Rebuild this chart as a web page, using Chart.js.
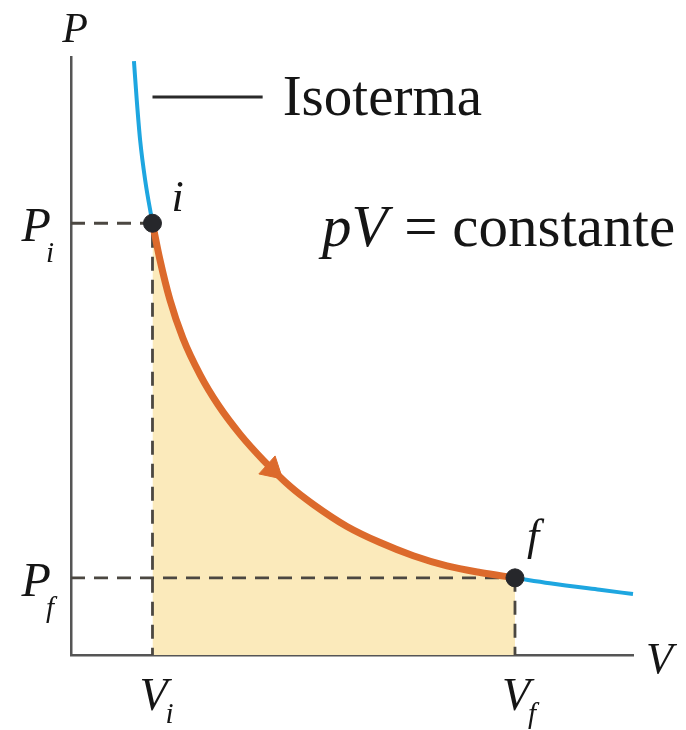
<!DOCTYPE html>
<html>
<head>
<meta charset="utf-8">
<script src="https://cdn.jsdelivr.net/npm/chart.js@4"></script>
<style>
  html, body { margin: 0; padding: 0; background: #fff; }
  #wrap { width: 686px; height: 730px; position: relative; }
</style>
</head>
<body>
<div id="wrap"><canvas id="pvChart"></canvas></div>
<script>
// isotherm above the initial state
const volumeIsoUpper = [1.12, 1.17, 1.23, 1.32, 1.45];
const pressureIsoUpper = [9.93, 9.28, 8.61, 7.94, 7.22];

// the expansion i -> f along the isotherm
const volumeProcess = [1.45, 1.58, 1.76, 1.99, 2.30, 2.62, 3.01, 3.42, 3.90, 4.31, 4.91, 5.50, 6.09, 6.69, 7.28, 7.90];
const pressureProcess = [7.22, 6.62, 5.94, 5.30, 4.68, 4.18, 3.69, 3.26, 2.82, 2.52, 2.15, 1.88, 1.66, 1.49, 1.38, 1.29];

// isotherm beyond the final state
const volumeIsoLower = [7.90, 8.52, 9.41, 10.0];
const pressureIsoLower = [1.29, 1.20, 1.09, 1.02];

// states
const stateNames = ['i', 'f'];
const stateVolume = [1.45, 7.90];
const statePressure = [7.22, 1.29];

// direction arrow on the process curve
const arrowVolume = [3.58];
const arrowPressure = [3.10];

// leader line to the "Isoterma" label
const leaderVolume = [1.45, 3.41];
const leaderPressure = [9.33, 9.33];

// tick labels [main, subscript]
const yTickLabels = [['P', 'i'], ['P', 'f']];
const xTickLabels = [['V', 'i'], ['V', 'f']];
const axisNames = ['V', 'P'];
const curveLabel = 'Isoterma';
const lawLabel = ['pV', ' = constante'];

const pts = (xs, ys) => xs.map((x, k) => ({ x: x, y: ys[k] }));

const SERIF = '"Liberation Serif", "DejaVu Serif", serif';

const labelPlugin = {
  id: 'labels',
  afterDraw(chart) {
    const ctx = chart.ctx;
    const xs = chart.scales.x, ys = chart.scales.y;
    const a = chart.chartArea;
    ctx.save();
    ctx.fillStyle = '#151515';
    ctx.textBaseline = 'alphabetic';

    function sub(main, s, x, y, size, subSize, align, tuck, drop) {
      ctx.font = 'italic ' + size + 'px ' + SERIF;
      const w1 = ctx.measureText(main).width;
      ctx.font = 'italic ' + subSize + 'px ' + SERIF;
      const w2 = ctx.measureText(s).width;
      const total = w1 - tuck + w2;
      let x0 = x;
      if (align === 'right') x0 = x - total;
      if (align === 'center') x0 = x - total / 2;
      ctx.textAlign = 'left';
      ctx.font = 'italic ' + size + 'px ' + SERIF;
      ctx.fillText(main, x0, y);
      ctx.font = 'italic ' + subSize + 'px ' + SERIF;
      ctx.fillText(s, x0 + w1 - tuck, y + drop);
    }

    // axis names
    ctx.textAlign = 'center';
    ctx.font = 'italic 42px ' + SERIF;
    ctx.fillText(axisNames[1], a.left + 4, a.top - 15);
    ctx.textAlign = 'left';
    ctx.font = 'italic 44px ' + SERIF;
    ctx.fillText(axisNames[0], a.right + 13, a.bottom + 18);

    // tick labels
    statePressure.forEach((p, k) => {
      sub(yTickLabels[k][0], yTickLabels[k][1], a.left - 17, ys.getPixelForValue(p) + 18, 48, 29, 'right', 5, 21);
    });
    stateVolume.forEach((v, k) => {
      sub(xTickLabels[k][0], xTickLabels[k][1], xs.getPixelForValue(v) + 4, a.bottom + 55, 46, 29, 'center', 2, 13);
    });

    // state names
    ctx.textAlign = 'left';
    ctx.font = 'italic 44px ' + SERIF;
    ctx.fillText(stateNames[0], xs.getPixelForValue(stateVolume[0]) + 19, ys.getPixelForValue(statePressure[0]) - 12);
    ctx.fillText(stateNames[1], xs.getPixelForValue(stateVolume[1]) + 12, ys.getPixelForValue(statePressure[1]) - 28);

    // Isoterma
    ctx.font = '57px ' + SERIF;
    ctx.fillText(curveLabel, xs.getPixelForValue(leaderVolume[1]) + 20, ys.getPixelForValue(leaderPressure[1]) + 18);

    // pV = constante
    ctx.font = 'italic 59px ' + SERIF;
    const lx = 322, ly = 246;
    ctx.fillText(lawLabel[0], lx, ly);
    const w = ctx.measureText(lawLabel[0]).width;
    ctx.font = '59px ' + SERIF;
    ctx.fillText(lawLabel[1], lx + w + 2, ly);
    ctx.restore();
  }
};

const dashStyle = { borderColor: '#4b4741', borderWidth: 2.8, borderDash: [14, 9], pointRadius: 0, fill: false, tension: 0, clip: false, order: 4 };

new Chart(document.getElementById('pvChart'), {
  type: 'line',
  data: {
    datasets: [
      {
        data: pts(stateVolume, statePressure),
        showLine: false,
        pointRadius: 9,
        pointBackgroundColor: '#26272b',
        pointBorderColor: '#26272b',
        clip: false,
        order: 0
      },
      {
        data: pts(arrowVolume, arrowPressure),
        showLine: false,
        pointStyle: 'triangle',
        pointRadius: 14,
        rotation: 132,
        pointBackgroundColor: '#dc6a2c',
        pointBorderColor: '#dc6a2c',
        clip: false,
        order: 1
      },
      {
        data: pts(volumeProcess, pressureProcess),
        borderColor: '#dc6a2c',
        borderWidth: 7,
        backgroundColor: '#fbeabb',
        fill: 'origin',
        cubicInterpolationMode: 'monotone',
        pointRadius: 0,
        clip: false,
        order: 2
      },
      {
        data: pts(volumeIsoUpper, pressureIsoUpper),
        borderColor: '#1ea6e0',
        borderWidth: 4,
        cubicInterpolationMode: 'monotone',
        pointRadius: 0,
        fill: false,
        clip: false,
        order: 3
      },
      {
        data: pts(volumeIsoLower, pressureIsoLower),
        borderColor: '#1ea6e0',
        borderWidth: 4,
        cubicInterpolationMode: 'monotone',
        pointRadius: 0,
        fill: false,
        clip: false,
        order: 3
      },
      Object.assign({ data: [{ x: 0, y: statePressure[0] }, { x: stateVolume[0], y: statePressure[0] }, { x: stateVolume[0], y: 0 }] }, dashStyle),
      Object.assign({ data: [{ x: 0, y: statePressure[1] }, { x: stateVolume[1], y: statePressure[1] }] }, dashStyle),
      Object.assign({ data: [{ x: stateVolume[1], y: statePressure[1] }, { x: stateVolume[1], y: 0 }] }, dashStyle),
      {
        data: pts(leaderVolume, leaderPressure),
        borderColor: '#2a2a2a',
        borderWidth: 3,
        pointRadius: 0,
        fill: false,
        clip: false,
        order: 4
      }
    ]
  },
  options: {
    responsive: true,
    maintainAspectRatio: false,
    animation: false,
    layout: { padding: { left: 71, right: 53, top: 57, bottom: 75 } },
    plugins: {
      legend: { display: false },
      tooltip: { enabled: false },
      filler: { drawTime: 'beforeDatasetsDraw' }
    },
    scales: {
      x: {
        type: 'linear',
        min: 0,
        max: 10,
        grid: { display: false, drawTicks: false },
        ticks: { display: false },
        border: { display: true, color: '#555', width: 2.5 }
      },
      y: {
        type: 'linear',
        min: 0,
        max: 10,
        grid: { display: false, drawTicks: false },
        ticks: { display: false },
        border: { display: true, color: '#555', width: 2.5 }
      }
    }
  },
  plugins: [labelPlugin]
});
</script>
</body>
</html>
